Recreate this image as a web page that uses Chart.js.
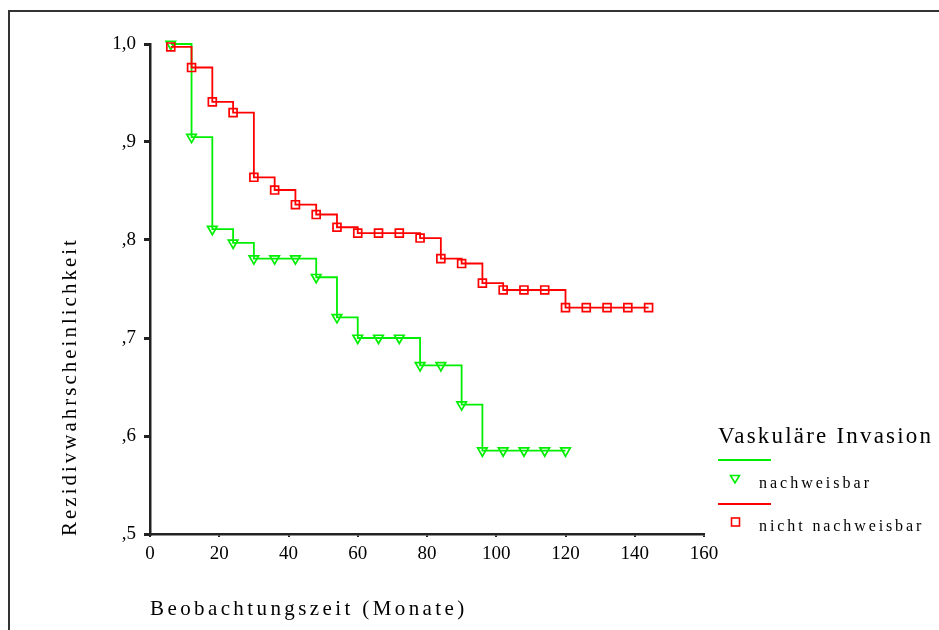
<!DOCTYPE html>
<html>
<head>
<meta charset="utf-8">
<script src="https://cdn.jsdelivr.net/npm/chart.js@4.4.1/dist/chart.umd.min.js"></script>
<style>
  html, body { margin: 0; padding: 0; background: #fff; }
  #wrap { width: 939px; height: 630px; position: relative; }
</style>
</head>
<body>
<div id="wrap"><canvas id="kmChart" width="939" height="630"></canvas></div>
<script>
// Kaplan-Meier: Rezidivwahrscheinlichkeit nach vaskulärer Invasion
const monthsPos = [6, 12, 18, 24, 30, 36, 42, 48, 54, 60, 66, 72, 78, 84, 90, 96, 102, 108, 114, 120];
const survPos   = [1.0, 0.905, 0.811, 0.797, 0.781, 0.781, 0.781, 0.762, 0.721, 0.700, 0.700, 0.700, 0.672, 0.672, 0.632, 0.585, 0.585, 0.585, 0.585, 0.585];

const monthsNeg = [6, 12, 18, 24, 30, 36, 42, 48, 54, 60, 66, 72, 78, 84, 90, 96, 102, 108, 114, 120, 126, 132, 138, 144];
const survNeg   = [0.997, 0.976, 0.941, 0.930, 0.864, 0.851, 0.836, 0.826, 0.813, 0.807, 0.807, 0.807, 0.802, 0.781, 0.776, 0.756, 0.749, 0.749, 0.749, 0.731, 0.731, 0.731, 0.731, 0.731];

const xTicks = [0, 20, 40, 60, 80, 100, 120, 140, 160];
const yTicks = [0.5, 0.6, 0.7, 0.8, 0.9, 1.0];
const yTickLabels = [',5', ',6', ',7', ',8', ',9', '1,0'];

const groupLabels = ['nachweisbar', 'nicht nachweisbar'];
const legendTitle = 'Vaskuläre Invasion';
const xTitle = 'Beobachtungszeit (Monate)';
const yTitle = 'Rezidivwahrscheinlichkeit';

const GREEN = '#00ee00';
const RED = '#ff0000';
const INK = '#222';
const SERIF = '"Liberation Serif", "Times New Roman", serif';

function toPoints(xs, ys) {
  return xs.map((x, i) => ({ x: x, y: ys[i] }));
}

function textSpaced(ctx, str, x, y, font, spacing) {
  ctx.save();
  ctx.font = font;
  ctx.letterSpacing = spacing + 'px';
  ctx.fillStyle = '#000';
  ctx.textAlign = 'left';
  ctx.textBaseline = 'alphabetic';
  ctx.fillText(str, x, y);
  ctx.restore();
}

// frame, axis titles and the group legend
const decorations = {
  id: 'decorations',
  afterDraw(chart) {
    const ctx = chart.ctx;
    ctx.save();
    ctx.strokeStyle = '#333';
    ctx.lineWidth = 2;
    ctx.beginPath();
    ctx.moveTo(9, 630);
    ctx.lineTo(9, 11);
    ctx.lineTo(939, 11);
    ctx.stroke();
    ctx.restore();

    // y title, rotated
    ctx.save();
    ctx.translate(76, 536);
    ctx.rotate(-Math.PI / 2);
    textSpaced(ctx, yTitle, 0, 0, '21px ' + SERIF, 3);
    ctx.restore();

    textSpaced(ctx, xTitle, 150, 615, '21px ' + SERIF, 3.4);

    // legend
    textSpaced(ctx, legendTitle, 718, 443, '23px ' + SERIF, 2.2);

    ctx.save();
    ctx.lineWidth = 1.8;
    ctx.strokeStyle = GREEN;
    ctx.beginPath();
    ctx.moveTo(718, 460);
    ctx.lineTo(771, 460);
    ctx.stroke();
    ctx.lineWidth = 1.6;
    ctx.beginPath();
    ctx.moveTo(730.5, 475.5);
    ctx.lineTo(739.5, 475.5);
    ctx.lineTo(735, 483);
    ctx.closePath();
    ctx.stroke();

    ctx.lineWidth = 1.8;
    ctx.strokeStyle = RED;
    ctx.beginPath();
    ctx.moveTo(718, 504);
    ctx.lineTo(771, 504);
    ctx.stroke();
    ctx.lineWidth = 1.6;
    ctx.strokeRect(731.5, 518, 8, 8);
    ctx.restore();

    textSpaced(ctx, groupLabels[0], 759, 488, '16px ' + SERIF, 3);
    textSpaced(ctx, groupLabels[1], 759, 531, '16px ' + SERIF, 2.9);
  }
};

new Chart(document.getElementById('kmChart'), {
  type: 'line',
  data: {
    datasets: [{
      label: groupLabels[1],
      data: toPoints(monthsNeg, survNeg),
      stepped: 'before',
      borderColor: RED,
      borderWidth: 1.8,
      pointStyle: 'rect',
      pointRadius: 5.6,
      pointBorderWidth: 1.7,
      pointBorderColor: RED,
      pointBackgroundColor: 'rgba(255,255,255,0)',
      fill: false,
      clip: false,
      order: 0
    }, {
      label: groupLabels[0],
      data: toPoints(monthsPos, survPos),
      stepped: 'before',
      borderColor: GREEN,
      borderWidth: 1.8,
      pointStyle: 'triangle',
      pointRotation: 180,
      pointRadius: 5.5,
      pointBorderWidth: 1.7,
      pointBorderColor: GREEN,
      pointBackgroundColor: 'rgba(255,255,255,0)',
      fill: false,
      clip: false,
      order: 1
    }]
  },
  options: {
    responsive: false,
    devicePixelRatio: 1,
    animation: false,
    layout: { padding: { top: 44, right: 235, left: 0, bottom: 0 } },
    plugins: {
      legend: { display: false },
      tooltip: { enabled: false }
    },
    scales: {
      x: {
        type: 'linear',
        min: 0,
        max: 160,
        afterBuildTicks: (s) => { s.ticks = xTicks.map(v => ({ value: v })); },
        afterFit: (s) => { s.height = 96; },
        ticks: {
          autoSkip: false,
          maxRotation: 0,
          padding: 6,
          color: '#000',
          font: { family: SERIF, size: 19 }
        },
        grid: { drawOnChartArea: false, tickLength: 3, lineWidth: 2, color: INK },
        border: { color: INK, width: 2.5 }
      },
      y: {
        type: 'linear',
        min: 0.5,
        max: 1.0,
        afterBuildTicks: (s) => { s.ticks = yTicks.map(v => ({ value: v })); },
        afterFit: (s) => { s.width = 150; },
        ticks: {
          padding: 8,
          color: '#000',
          font: { family: SERIF, size: 19 },
          callback: (v, i) => yTickLabels[i]
        },
        grid: { drawOnChartArea: false, tickLength: 6, lineWidth: 3, color: INK },
        border: { color: INK, width: 2.5 }
      }
    }
  },
  plugins: [decorations]
});
</script>
</body>
</html>
